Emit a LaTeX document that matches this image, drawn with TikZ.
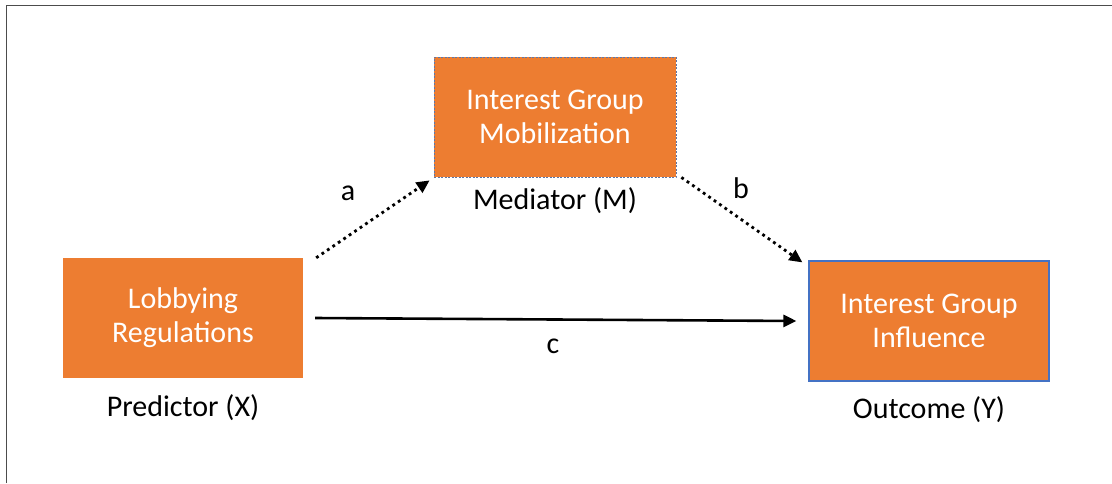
\documentclass[tikz,border=0pt]{standalone}
\usepackage{fontspec}
\setmainfont{Carlito}
\usetikzlibrary{arrows.meta}
\definecolor{varfill}{HTML}{ED7D31}
\definecolor{varedge}{HTML}{4472C4}
\tikzstyle{var}=[rectangle, fill=varfill, text=white, minimum width=240pt, minimum height=120pt, inner sep=0pt, align=center, font=\fontsize{30}{34}\selectfont]
\tikzstyle{role}=[font=\fontsize{30}{34}\selectfont]
\tikzstyle{dotlink}=[line width=2.8pt, dash pattern=on 2.8pt off 3.8pt, -{Triangle[length=13pt,width=12pt]}]
\tikzstyle{solidlink}=[line width=2.6pt, -{Triangle[length=13pt,width=12pt]}]

\begin{document}
\begin{tikzpicture}[x=1pt, y=-1pt]
			\useasboundingbox (0,0) rectangle (1112,483);
			\draw[line width=1pt, gray!60!black] (6,483) -- (6,5) -- (1112,5);

			\node[var] (pred) at (183,318) {Lobbying\\Regulations};
			\node[var, draw=varedge!60!gray, line width=0.8pt, dash pattern=on 2pt off 1.5pt, minimum width=242pt] (med) at (555,117) {Interest Group\\Mobilization};
			\node[var, draw=varedge, line width=1.2pt] (outc) at (929,321) {Interest Group\\Influence};

			\node[role] (predlab) at (183,408) {Predictor (X)};
			\node[role] (medlab) at (555,201) {Mediator (M)};
			\node[role] (outclab) at (929,410) {Outcome (Y)};

			\draw[dotlink] ([xshift=13pt]pred.north east) -- ([shift={(-4pt,-3pt)}]med.south west);
			\draw[dotlink] ([xshift=5pt]med.south east) -- ([shift={(-6pt,-2pt)}]outc.north west);
			\draw[solidlink] ([xshift=12pt]pred.east) -- ([xshift=-12pt]outc.west);

			\node[role] (alab) at (348,193) {a};
			\node[role] (blab) at (741,188) {b};
			\node[role] (clab) at (553,346) {c};
		\end{tikzpicture}
\end{document}
